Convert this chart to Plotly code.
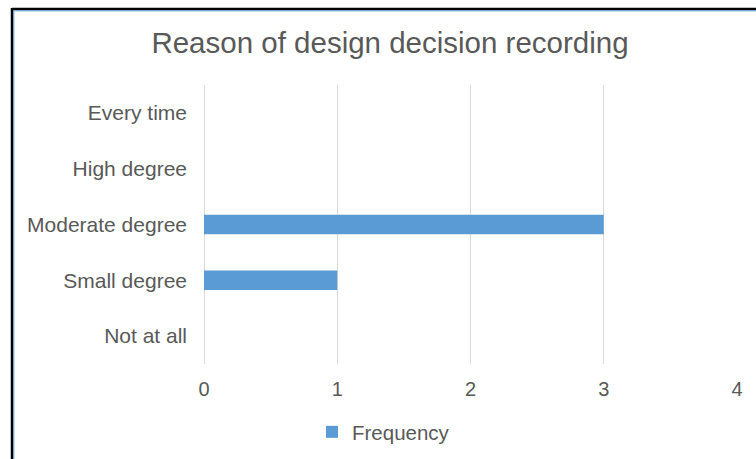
import plotly.graph_objects as go

# Survey answers, bottom to top as plotted
categories = ["Not at all", "Small degree", "Moderate degree", "High degree", "Every time"]
frequency = [0, 1, 3, 0, 0]
x_ticks = [0, 1, 2, 3, 4]

TEXT = "#595959"
GRID = "#d9d9d9"
BAR = "#5b9bd5"
FONT = "Liberation Sans, Arial, sans-serif"

W, H = 756, 459
L, R, T, B = 204, 19, 85, 95
PW, PH = W - L - R, H - T - B


def px_x(p):
    return (p - L) / PW


def px_y(p):
    return (H - B - p) / PH


fig = go.Figure(
    go.Bar(
        y=categories,
        x=frequency,
        orientation="h",
        name="Frequency",
        marker=dict(color=BAR, line=dict(width=0)),
        showlegend=True,
    )
)

fig.update_layout(
    width=W,
    height=H,
    margin=dict(l=L, r=R, t=T, b=B, pad=0, autoexpand=False),
    paper_bgcolor="white",
    plot_bgcolor="white",
    bargap=0.65,
    font=dict(family=FONT, color=TEXT, size=21),
    title=dict(
        text="Reason of design decision recording",
        font=dict(family=FONT, size=29.5, color=TEXT),
        x=px_x(390),
        xref="paper",
        xanchor="center",
        y=1 - 43 / H,
        yref="container",
        yanchor="middle",
    ),
    xaxis=dict(
        range=[0, 4],
        tickvals=x_ticks,
        showgrid=True,
        gridcolor=GRID,
        gridwidth=1,
        zeroline=True,
        zerolinecolor=GRID,
        zerolinewidth=1,
        showline=False,
        ticks="",
        ticklabelstandoff=11,
        tickfont=dict(size=20, color=TEXT),
        automargin=False,
    ),
    yaxis=dict(
        categoryorder="array",
        categoryarray=categories,
        showgrid=False,
        zeroline=False,
        showline=False,
        ticks="",
        ticklabelstandoff=16,
        tickfont=dict(size=21, color=TEXT),
        automargin=False,
    ),
    legend=dict(
        orientation="h",
        xref="container",
        x=312 / W,
        xanchor="left",
        yref="container",
        y=(H - 432) / H,
        yanchor="middle",
        font=dict(size=20.5, color=TEXT),
        itemwidth=30,
    ),
    shapes=[
        # outer frame: black edge with a thin blue inner edge
        dict(type="line", xref="paper", yref="paper",
             x0=px_x(12), x1=px_x(800), y0=px_y(9), y1=px_y(9),
             line=dict(color="black", width=2.5)),
        dict(type="line", xref="paper", yref="paper",
             x0=px_x(12), x1=px_x(12), y0=px_y(8), y1=px_y(500),
             line=dict(color="black", width=2.5)),
        dict(type="line", xref="paper", yref="paper",
             x0=px_x(13.8), x1=px_x(800), y0=px_y(10.8), y1=px_y(10.8),
             line=dict(color=BAR, width=1)),
        dict(type="line", xref="paper", yref="paper",
             x0=px_x(13.8), x1=px_x(13.8), y0=px_y(10.8), y1=px_y(500),
             line=dict(color=BAR, width=1)),
    ],
)

fig.write_html("out.html")
